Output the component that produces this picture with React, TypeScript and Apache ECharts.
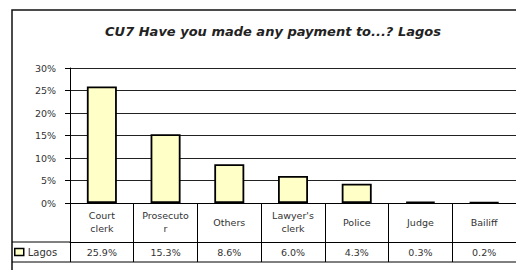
import React, { useEffect, useRef } from "react";
import * as echarts from "echarts";

const categories = ["Court\nclerk", "Prosecuto\nr", "Others", "Lawyer's\nclerk", "Police", "Judge", "Bailiff"];
const lagosValues = [25.9, 15.3, 8.6, 6.0, 4.3, 0.3, 0.2];
const seriesName = "Lagos";
const titleText = "CU7 Have you made any payment to...? Lagos";

export default function App() {
  const ref = useRef<HTMLDivElement>(null);
  useEffect(() => {
    if (!ref.current) return;
    const chart = echarts.init(ref.current, null, { renderer: "svg" });
    const font = "DejaVu Sans, sans-serif";
    chart.setOption({
      animation: false,
      backgroundColor: "#fff",
      title: {
        text: titleText,
        left: 268,
        top: 20,
        textAlign: "center",
        textStyle: { fontFamily: font, fontSize: 13, fontStyle: "italic", fontWeight: "bold", color: "#222" },
      },
      legend: {
        data: [seriesName],
        left: 14,
        top: 247,
        padding: 0,
        itemWidth: 9,
        itemHeight: 7,
        icon: "rect",
        itemStyle: { color: "#FFFFC8", borderColor: "#000", borderWidth: 1.5 },
        textStyle: { fontFamily: font, fontSize: 10, color: "#333", padding: [0, 0, 0, -1] },
      },
      grid: { left: 70, top: 68, width: 456, height: 135, containLabel: false },
      xAxis: [
        {
          type: "category",
          data: categories,
          position: "bottom",
          axisLine: { show: true, lineStyle: { color: "#000", width: 1 } },
          axisTick: { show: true, length: 59, lineStyle: { color: "#000", width: 1 } },
          axisLabel: {
            interval: 0,
            margin: 19,
            verticalAlign: "middle",
            lineHeight: 13,
            fontFamily: font,
            fontSize: 9.5,
            color: "#333",
          },
          splitLine: { show: false },
        },
        {
          type: "category",
          data: lagosValues.map((v) => v.toFixed(1) + "%"),
          position: "bottom",
          offset: 39,
          axisLine: { show: true, lineStyle: { color: "#000", width: 1 } },
          axisTick: { show: false },
          axisLabel: {
            interval: 0,
            margin: 10,
            verticalAlign: "middle",
            fontFamily: font,
            fontSize: 9.5,
            color: "#333",
          },
        },
      ],
      yAxis: {
        type: "value",
        min: 0,
        max: 30,
        interval: 5,
        axisLine: { show: true, lineStyle: { color: "#000", width: 1 } },
        axisTick: { show: true, length: 5, lineStyle: { color: "#000" } },
        axisLabel: { formatter: "{value}%", margin: 14, fontFamily: font, fontSize: 9.5, color: "#333" },
        splitLine: { show: true, lineStyle: { color: "#222", width: 1.2 } },
      },
      series: [
        {
          name: seriesName,
          type: "bar",
          xAxisIndex: 0,
          data: lagosValues,
          barWidth: 30,
          itemStyle: { color: "#FFFFC8", borderColor: "#000", borderWidth: 1.8 },
        },
      ],
      graphic: [
        {
          type: "rect",
          shape: { x: 12, y: 10, width: 540, height: 300 },
          style: { fill: "none", stroke: "#111", lineWidth: 1.5 },
          silent: true,
        },
        {
          type: "line",
          shape: { x1: 12, y1: 242, x2: 70, y2: 242 },
          style: { stroke: "#000", lineWidth: 1 },
        },
        {
          type: "line",
          shape: { x1: 12, y1: 262, x2: 516, y2: 262 },
          style: { stroke: "#000", lineWidth: 1 },
        },
      ],
    });
    return () => chart.dispose();
  }, []);
  return <div ref={ref} style={{ position: "absolute", left: 0, top: 0, width: 516, height: 270 }} />;
}
